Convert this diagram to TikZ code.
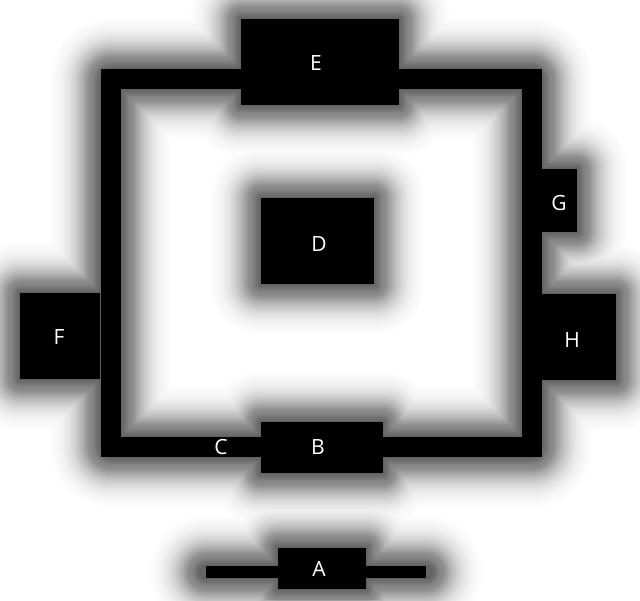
\documentclass[tikz,border=0pt]{standalone}
\usepackage{fontspec}
\setmainfont{Open Sans}
\pgfdeclarelayer{bg}
\pgfsetlayers{bg,main}
\begin{document}
\begin{tikzpicture}[x=1pt,y=-1pt,
  blk/.style={rectangle, fill=black, text=white, inner sep=0pt, font=\fontsize{21}{21}\selectfont},
  lbl/.style={text=white, inner sep=0pt, font=\fontsize{21}{21}\selectfont},
  glowline/.style={line join=round, line cap=round, black}]
\useasboundingbox (0,0) rectangle (640,600);
% frame corners
\coordinate (tl) at (111,79);
\coordinate (br) at (532,447);
\coordinate (aL) at (206,572);
\coordinate (aR) at (426,572);
% frame and wire
\draw[line width=20pt, black] (tl) rectangle (br);
\draw[line width=12pt, black] (aL) -- (aR);
% blocks
\node[blk, minimum width=158pt, minimum height=86pt] (E) at (320,62) {};
\node[lbl] at (316,63) {E};
\node[blk, minimum width=113pt, minimum height=86pt] (D) at (317.5,241) {};
\node[lbl] at (319,244) {D};
\node[blk, minimum width=122pt, minimum height=51pt] (B) at (322,447.5) {};
\node[lbl] at (318,447) {B};
\node[lbl] (C) at (221,447) {C};
\node[blk, minimum width=88pt, minimum height=41pt] (A) at (322,568.5) {};
\node[lbl] at (319,569) {A};
\node[blk, minimum width=80pt, minimum height=86pt] (F) at (60,336) {};
\node[lbl] at (59,337) {F};
\node[blk, minimum width=36pt, minimum height=63pt] (G) at (559,200.5) {};
\node[lbl] at (559,203) {G};
\node[blk, minimum width=75pt, minimum height=86pt] (H) at (578.5,337) {};
\node[lbl] at (572,340) {H};
\begin{pgfonlayer}{bg}
  \fill[white] (0,0) rectangle (640,600);
  \foreach \r in {1,...,60}{
    \pgfmathsetmacro\op{0.027*exp(-1*(\r/32)*(\r/32))}
    \pgfmathsetmacro\wa{2*\r}
    \pgfmathsetmacro\wb{20+2*\r}
    \pgfmathsetmacro\wc{12+2*\r}
    \begin{scope}[transparency group, opacity=\op]
      \draw[glowline, line width=\wb pt] (tl) rectangle (br);
      \draw[glowline, line width=\wc pt] (aL) -- (aR);
      \foreach \n in {A,B,D,E,F,G,H}{
        \draw[glowline, line width=\wa pt] (\n.north west) rectangle (\n.south east);
      }
    \end{scope}
  }
\end{pgfonlayer}
\end{tikzpicture}
\end{document}
